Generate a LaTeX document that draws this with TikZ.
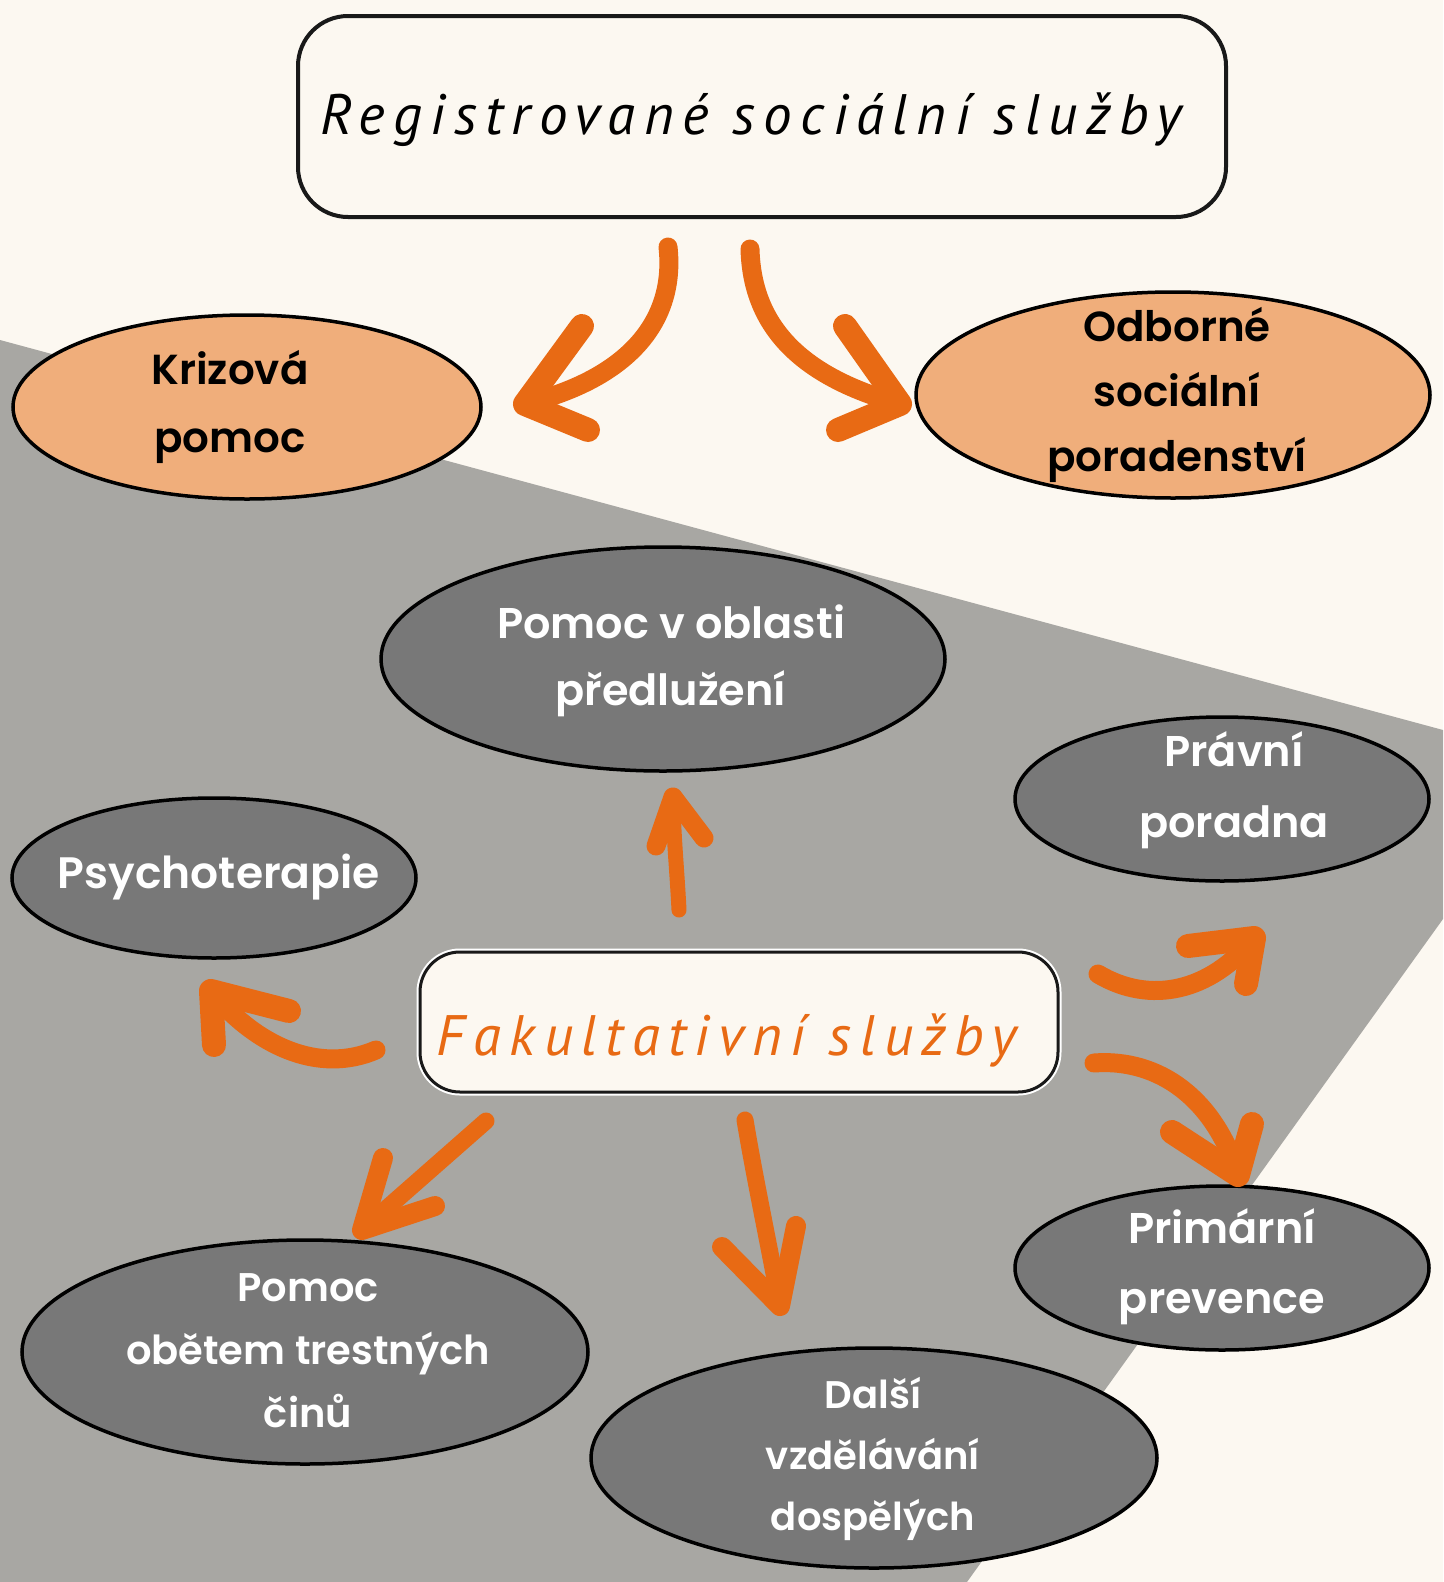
\documentclass[tikz,border=0pt]{standalone}
\usepackage{fontspec}
\usetikzlibrary{shapes.geometric}
\newfontfamily\labfont{Poppins SemiBold}
\newfontfamily\handfont{PT Sans}[LetterSpace=15]
\definecolor{cream}{HTML}{FCF8F1}
\definecolor{greybg}{HTML}{A8A7A3}
\definecolor{dkfill}{HTML}{787878}
\definecolor{orfill}{HTML}{F0AE7B}
\definecolor{arr}{HTML}{E86A14}
\tikzset{
  ell/.style={ellipse, draw=black, line width=3.5pt, inner sep=0pt},
  orell/.style={ell, fill=orfill},
  dkell/.style={ell, fill=dkfill},
  blab/.style={font=\labfont\fontsize{43}{67}\selectfont, align=center, text=black, inner sep=0pt},
  wlab/.style={font=\labfont\fontsize{43}{67}\selectfont, align=center, text=white, inner sep=0pt},
  handtxt/.style={font=\handfont\itshape\fontsize{57}{60}\selectfont, inner sep=0pt, anchor=base},
  harrow/.style={draw=arr, line width=19pt, line cap=round, line join=round},
  hhead/.style={draw=arr, line width=24pt, line cap=round, line join=round}
}
\begin{document}
\begin{tikzpicture}[x=1pt,y=-1pt]
\useasboundingbox (0,0) rectangle (1443,1582);
\fill[cream] (0,0) rectangle (1443,1582);
\fill[greybg] (0,340) -- (1443,730) -- (1443,919) -- (967,1582) -- (0,1582) -- cycle;

% top box
\node[draw=black!90, line width=4pt, rounded corners=50pt, fill=cream,
      minimum width=928pt, minimum height=201pt, inner sep=0pt] (reg) at (762,116.5) {};
\node[handtxt, text=black] (regT) at (751,134) {Registrované sociální služby};

% orange ellipses
\node[orell, minimum width=468pt, minimum height=184pt] (krz) at (247,407) {};
\node[blab, font=\labfont\fontsize{42}{68}\selectfont] (krzT) at (230,407) {Krizová\\pomoc};
\node[orell, minimum width=514pt, minimum height=206pt] (odb) at (1173,395) {};
\node[blab, font=\labfont\fontsize{42}{65}\selectfont] (odbT) at (1177,395) {Odborné\\sociální\\poradenství};

% dark ellipses
\node[dkell, minimum width=564pt, minimum height=224pt] (pvo) at (663,659) {};
\node[wlab] (pvoT) at (671,661) {Pomoc v oblasti\\předlužení};
\node[dkell, minimum width=414pt, minimum height=164pt] (prav) at (1222,799) {};
\node[wlab, font=\labfont\fontsize{43}{71}\selectfont] (pravT) at (1234,790) {Právní\\poradna};
\node[dkell, minimum width=404pt, minimum height=160pt] (psy) at (214,878) {};
\node[wlab, font=\labfont\fontsize{44}{67}\selectfont] (psyT) at (219,877) {Psychoterapie};
\node[dkell, minimum width=566pt, minimum height=224pt] (obe) at (305,1352) {};
\node[wlab, font=\labfont\fontsize{40}{63}\selectfont] (obeT) at (308,1351) {Pomoc\\obětem trestných\\činů};
\node[dkell, minimum width=566pt, minimum height=220pt] (dal) at (874,1458) {};
\node[wlab, font=\labfont\fontsize{38.5}{61}\selectfont] (dalT) at (873,1459) {Další\\vzdělávání\\dospělých};
\node[dkell, minimum width=414pt, minimum height=164pt] (pri) at (1222,1268) {};
\node[wlab, font=\labfont\fontsize{43}{70}\selectfont] (priT) at (1222,1267) {Primární\\prevence};

% Fakultativni box
\node[draw=black!90, line width=3pt, rounded corners=40pt, fill=cream,
      preaction={draw=white, line width=7pt},
      minimum width=638pt, minimum height=140pt, inner sep=0pt] (fak) at (739,1022) {};
\node[handtxt, text=arr] (fakT) at (727,1055) {Fakultativní služby};

% arrow coordinates
\coordinate (a1s) at (668,247);  \coordinate (a1t) at (525,404);
\coordinate (a1b) at (582,326);  \coordinate (a1c) at (588,430);
\coordinate (a2s) at (750,249);  \coordinate (a2t) at (900,404);
\coordinate (a2b) at (845,326);  \coordinate (a2c) at (838,430);
\coordinate (a3s) at (679,910);  \coordinate (a3t) at (673,797);
\coordinate (a3b) at (656,846);  \coordinate (a3c) at (704,838);
\coordinate (a4s) at (1098,974); \coordinate (a4t) at (1254,938);
\coordinate (a4b) at (1188,946); \coordinate (a4c) at (1246,984);
\coordinate (a5s) at (1094,1063); \coordinate (a5t) at (1238,1175);
\coordinate (a5b) at (1172,1132); \coordinate (a5c) at (1252,1124);
\coordinate (a6s) at (376,1050); \coordinate (a6t) at (211,991);
\coordinate (a6b) at (289,1011); \coordinate (a6c) at (214,1045);
\coordinate (a7s) at (486,1121); \coordinate (a7t) at (362,1230);
\coordinate (a7b) at (383,1158); \coordinate (a7c) at (435,1206);
\coordinate (a8s) at (745,1120); \coordinate (a8t) at (780,1306);
\coordinate (a8b) at (722,1247); \coordinate (a8c) at (796,1226);

% arrows
\draw[harrow] (a1s) .. controls (676,320) and (630,378) .. (a1t);
\draw[hhead] (a1b) -- (a1t) -- (a1c);
\draw[harrow] (a2s) .. controls (752,322) and (795,375) .. (a2t);
\draw[hhead] (a2b) -- (a2t) -- (a2c);
\draw[harrow, line width=15pt] (a3s) .. controls (677,870) and (673,830) .. (a3t);
\draw[hhead, line width=19pt] (a3b) -- (a3t) -- (a3c);
\draw[harrow] (a4s) .. controls (1150,1005) and (1210,992) .. (a4t);
\draw[hhead] (a4b) -- (a4t) -- (a4c);
\draw[harrow] (a5s) .. controls (1160,1058) and (1215,1100) .. (a5t);
\draw[hhead] (a5b) -- (a5t) -- (a5c);
\draw[harrow] (a6s) .. controls (318,1075) and (255,1045) .. (a6t);
\draw[hhead] (a6b) -- (a6t) -- (a6c);
\draw[harrow, line width=17pt] (a7s) -- (a7t);
\draw[hhead, line width=20pt] (a7b) -- (a7t) -- (a7c);
\draw[harrow, line width=17pt] (a8s) .. controls (755,1180) and (770,1250) .. (a8t);
\draw[hhead, line width=20pt] (a8b) -- (a8t) -- (a8c);
\end{tikzpicture}
\end{document}
